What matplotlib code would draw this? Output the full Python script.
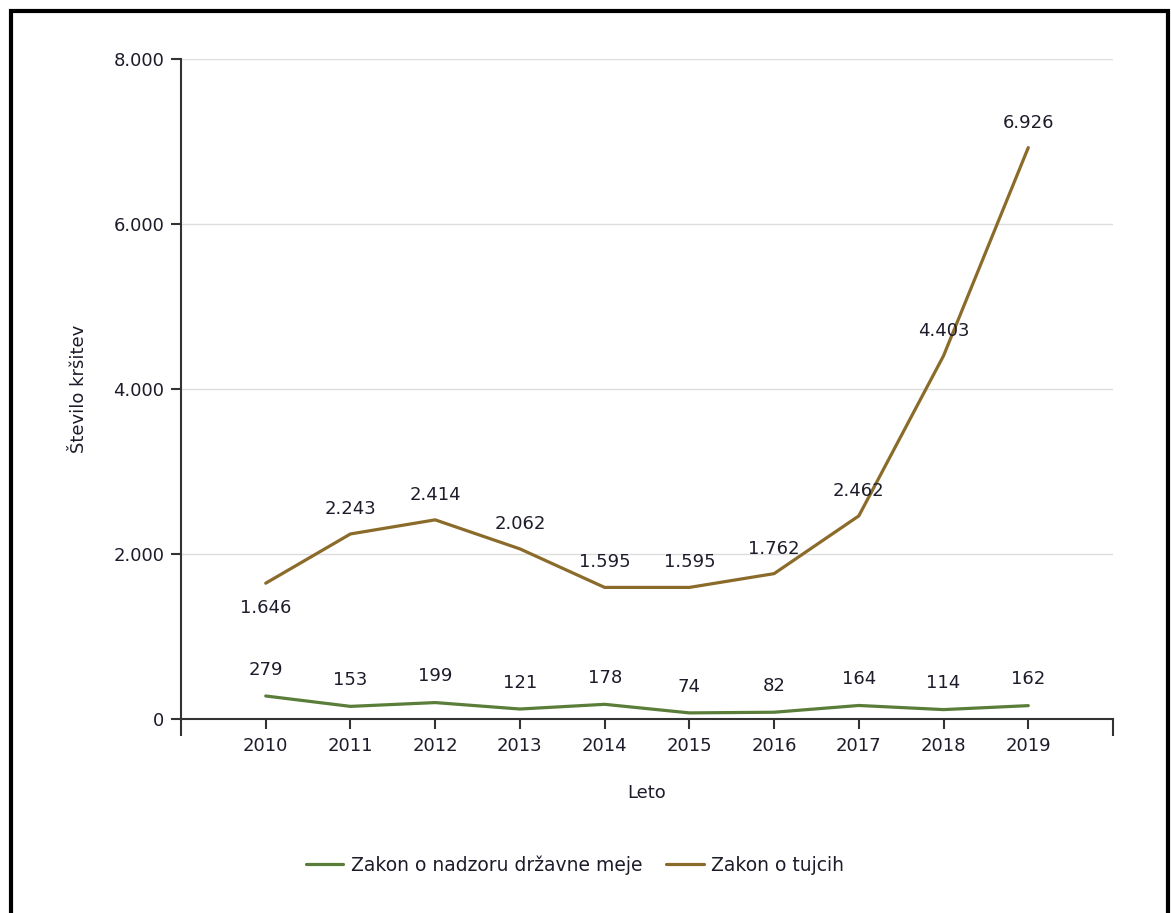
import matplotlib.pyplot as plt
from matplotlib.patches import Rectangle
from matplotlib.ticker import FuncFormatter

# --- data ---
years = [2010, 2011, 2012, 2013, 2014, 2015, 2016, 2017, 2018, 2019]
meja = [279, 153, 199, 121, 178, 74, 82, 164, 114, 162]
tujci = [1646, 2243, 2414, 2062, 1595, 1595, 1762, 2462, 4403, 6926]
series_names = ['Zakon o nadzoru državne meje', 'Zakon o tujcih']
y_ticks = [0, 2000, 4000, 6000, 8000]

GREEN = '#5a7d3a'
BROWN = '#8b6b2a'
TXT = '#1c1c2a'
FS = 13

plt.rcParams['font.family'] = ['DejaVu Sans']
plt.rcParams['font.size'] = FS

fig = plt.figure(figsize=(11.71, 9.13), dpi=100)
ax = fig.add_axes([181 / 1171, 1 - 719 / 913, (1113 - 181) / 1171, (719 - 59) / 913])

# outer frame round the whole chart
fig.patches.append(Rectangle((10.5 / 1171, -0.05), (1168 - 10.5) / 1171, 1 - 11.5 / 913 + 0.05,
                             transform=fig.transFigure, fill=False, ec='black', lw=3))

l1, = ax.plot(years, meja, color=GREEN, lw=2.3, solid_joinstyle='round', solid_capstyle='round')
l2, = ax.plot(years, tujci, color=BROWN, lw=2.3, solid_joinstyle='round', solid_capstyle='round')

def fmt(v):
    return f'{int(v):,}'.replace(',', '.')

for x, v in zip(years, meja):
    ax.annotate(fmt(v), (x, v), xytext=(0, 19), textcoords='offset points',
                ha='center', va='center', color=TXT, fontsize=FS)
for i, (x, v) in enumerate(zip(years, tujci)):
    dy = -18 if i == 0 else 18
    ax.annotate(fmt(v), (x, v), xytext=(0, dy), textcoords='offset points',
                ha='center', va='center', color=TXT, fontsize=FS)

ax.set_xlim(2009, 2020)
ax.set_ylim(0, 8000)
ax.set_xticks(years)
ax.set_yticks(y_ticks)
ax.yaxis.set_major_formatter(FuncFormatter(lambda v, p: fmt(v)))
ax.set_xticks([2009, 2020], minor=True)
ax.tick_params(axis='x', which='minor', length=12, width=1.5, color='#333333')
ax.tick_params(axis='both', which='major', length=7, width=1.5, color='#333333',
               labelcolor=TXT, labelsize=FS)
ax.tick_params(axis='x', pad=6)
ax.tick_params(axis='y', pad=5)

ax.grid(axis='y', color='#dddddd', lw=1)
ax.set_axisbelow(True)
for s in ['top', 'right']:
    ax.spines[s].set_visible(False)
for s in ['left', 'bottom']:
    ax.spines[s].set_color('#333333')
    ax.spines[s].set_linewidth(1.5)

ax.set_xlabel('Leto', color=TXT, fontsize=FS, labelpad=21)
ax.set_ylabel('Število kršitev', color=TXT, fontsize=FS, labelpad=18)

fig.legend([l1, l2], series_names, loc='center', bbox_to_anchor=(575 / 1171, 1 - 865 / 913),
           ncol=2, frameon=False, fontsize=13.5, handlelength=2, handletextpad=0.4,
           columnspacing=1.3, labelcolor=TXT)

fig.savefig('out.png', dpi=100)
